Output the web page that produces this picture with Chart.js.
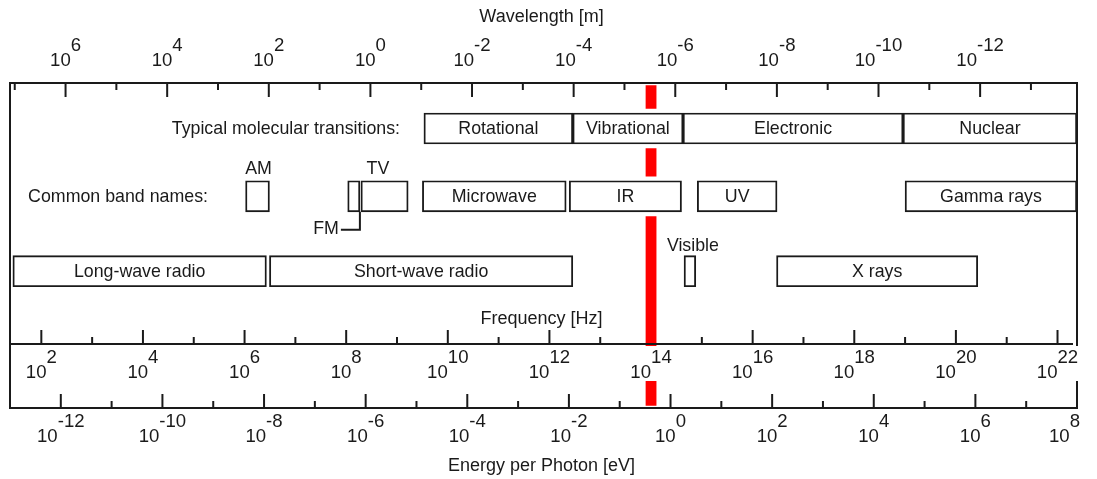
<!DOCTYPE html>
<html>
<head>
<meta charset="utf-8">
<title>Electromagnetic spectrum</title>
<script src="https://cdn.jsdelivr.net/npm/chart.js@4.4.1/dist/chart.umd.min.js"></script>
<style>
  html, body { margin: 0; padding: 0; background: #fff; }
  canvas { display: block; }
</style>
</head>
<body>
<canvas id="spectrum" width="1097" height="479"></canvas>
<script>
// every position along the spectrum is log10(frequency / Hz)
const transitionNames = ['Rotational', 'Vibrational', 'Electronic', 'Nuclear'];
const transitionRanges = [[9.53, 12.46], [12.46, 14.63], [14.63, 18.96], [18.96, 22.38]];

const bandNames = ['AM', 'FM', 'TV', 'Microwave', 'IR', 'UV', 'Gamma rays'];
const bandRanges = [[6.02, 6.49], [8.03, 8.27], [8.29, 9.22], [9.50, 12.33], [12.39, 14.60], [14.91, 16.48], [19.00, 22.38]];

const waveNames = ['Long-wave radio', 'Short-wave radio', 'Visible', 'X rays'];
const waveRanges = [[1.44, 6.43], [6.49, 12.46], [14.65, 14.88], [16.47, 20.43]];

const markerRange = [13.90, 14.10];

// tick labels (powers of ten)
const wavelengthTicks = [6, 4, 2, 0, -2, -4, -6, -8, -10, -12];
const frequencyTicks = [2, 4, 6, 8, 10, 12, 14, 16, 18, 20, 22];
const energyTicks = [-12, -10, -8, -6, -4, -2, 0, 2, 4, 6, 8];
const energyLimits = [-13, 8];

const LOG_C = Math.log10(2.998e8);     // wavelength = c / f
const LOG_H = Math.log10(4.1357e-15);  // energy = h f  [eV]

// vertical layout: px below the wavelength axis
const lane = { top: 0, transitions: 45.5, bands: 113.3, radio: 188.2, frequency: 261, energy: 325 };
const BOX = 31;
const FONT = '"Liberation Sans", Arial, sans-serif';
const TEXT = '17.8px ' + FONT;
const TICK = '18.6px ' + FONT;
const INK = '#1a1a1a';
const outsideLabels = ['AM', 'FM', 'TV', 'Visible'];
const rowTitles = [
  { text: 'Typical molecular transitions:', at: 9.06, level: lane.transitions },
  { text: 'Common band names:', at: 5.28, level: lane.bands }
];

const rows = [
  { label: 'Typical molecular transitions', names: transitionNames, ranges: transitionRanges, level: lane.transitions },
  { label: 'Common band names', names: bandNames, ranges: bandRanges, level: lane.bands },
  { label: 'Radio, visible, X rays', names: waveNames, ranges: waveRanges, level: lane.radio }
];

function rowData(ranges, level) {
  return ranges.map(r => ({ x: r, y: level }));
}

function power(ctx, exp, px, baseY, supY, maxRight) {
  const base = '10', sup = String(exp);
  const wb = ctx.measureText(base).width;
  const ws = ctx.measureText(sup).width;
  let left = px - (wb + ws) / 2;
  if (maxRight !== undefined && left + wb + ws > maxRight) left = maxRight - wb - ws;
  ctx.fillText(base, left, baseY);
  ctx.fillText(sup, left + wb, supY);
  return { left: left, right: left + wb + ws };
}

const spectrumAxes = {
  id: 'spectrumAxes',
  beforeDatasetsDraw(chart) {
    const { ctx, scales: { x, y } } = chart;
    ctx.save();
    ctx.strokeStyle = INK;
    ctx.lineWidth = 2;
    const tick = (px, py, len) => {
      ctx.beginPath(); ctx.moveTo(px, py); ctx.lineTo(px, py + len); ctx.stroke();
    };
    // wavelength ticks hang down from the top line
    const top = y.getPixelForValue(lane.top);
    for (let e = Math.ceil(LOG_C - x.max); e <= Math.floor(LOG_C - x.min); e++) {
      tick(x.getPixelForValue(LOG_C - e), top, wavelengthTicks.includes(e) ? 14 : 7);
    }
    // frequency ticks stand up from the middle line
    const fy = y.getPixelForValue(lane.frequency);
    for (let e = Math.ceil(x.min); e <= Math.floor(x.max); e++) {
      tick(x.getPixelForValue(e), fy, frequencyTicks.includes(e) ? -14 : -7);
    }
    // energy ticks stand up from the bottom line
    const ey = y.getPixelForValue(lane.energy);
    for (let e = energyLimits[0]; e <= energyLimits[1]; e++) {
      tick(x.getPixelForValue(e - LOG_H), ey, energyTicks.includes(e) ? -14 : -7);
    }
    ctx.restore();
  },
  afterDatasetsDraw(chart) {
    const { ctx, chartArea: area, scales: { x, y } } = chart;
    ctx.save();
    ctx.font = TEXT;
    ctx.fillStyle = INK;
    ctx.textBaseline = 'middle';

    // text inside the boxes
    chart.data.datasets.forEach((ds, di) => {
      if (!ds.names) return;
      chart.getDatasetMeta(di).data.forEach((el, i) => {
        const name = ds.names[i];
        if (outsideLabels.includes(name)) return;
        ctx.textAlign = 'center';
        ctx.fillText(name, (el.x + el.base) / 2, el.y + 1);
      });
    });

    // row titles
    ctx.textAlign = 'right';
    rowTitles.forEach(t => ctx.fillText(t.text, x.getPixelForValue(t.at), y.getPixelForValue(t.level) + 1));

    // labels next to the small boxes
    const bandMeta = chart.getDatasetMeta(1).data;
    const waveMeta = chart.getDatasetMeta(2).data;
    const am = bandMeta[bandNames.indexOf('AM')];
    const fm = bandMeta[bandNames.indexOf('FM')];
    const tv = bandMeta[bandNames.indexOf('TV')];
    const vis = waveMeta[waveNames.indexOf('Visible')];
    const by = y.getPixelForValue(lane.bands);
    ctx.textAlign = 'center';
    ctx.fillText('AM', (am.x + am.base) / 2 + 1, by - 27);
    ctx.fillText('TV', (fm.base + tv.x) / 2, by - 27);
    ctx.fillText('Visible', (vis.x + vis.base) / 2 + 3, y.getPixelForValue(lane.radio) - 25);
    // FM leader
    ctx.strokeStyle = INK;
    ctx.lineWidth = 2;
    const ly = by + BOX / 2 + 18;
    ctx.beginPath();
    ctx.moveTo(fm.x, by + BOX / 2);
    ctx.lineTo(fm.x, ly);
    ctx.lineTo(fm.x - 19, ly);
    ctx.stroke();
    ctx.textAlign = 'right';
    ctx.fillText('FM', fm.x - 21, ly - 1);

    // frame and axis lines
    const top = y.getPixelForValue(lane.top);
    const fy = y.getPixelForValue(lane.frequency);
    const ey = y.getPixelForValue(lane.energy);
    ctx.beginPath();
    ctx.moveTo(area.left, ey); ctx.lineTo(area.left, top); ctx.lineTo(area.right, top); ctx.lineTo(area.right, ey);
    ctx.moveTo(area.left - 1, ey); ctx.lineTo(area.right + 1, ey);
    ctx.moveTo(area.left, fy); ctx.lineTo(area.right - 4, fy);
    ctx.stroke();

    // tick labels
    ctx.font = TICK;
    ctx.textAlign = 'left';
    wavelengthTicks.forEach(e => power(ctx, e, x.getPixelForValue(LOG_C - e), top - 22, top - 37));
    frequencyTicks.forEach(e => {
      const px = x.getPixelForValue(e);
      const w = ctx.measureText('10' + e).width;
      ctx.fillStyle = '#fff';
      ctx.fillRect(px - w / 2 - 2, fy + 2, w + 4, 35);
      ctx.fillStyle = INK;
      power(ctx, e, px, fy + 29, fy + 14);
    });
    energyTicks.forEach(e => power(ctx, e, x.getPixelForValue(e - LOG_H), ey + 29, ey + 14, area.right + 3));

    // axis titles
    ctx.font = '18px ' + FONT;
    ctx.textAlign = 'center';
    const cx = (area.left + area.right) / 2 - 2;
    ctx.fillText('Wavelength [m]', cx, top - 66);
    ctx.fillText('Frequency [Hz]', cx, fy - 25);
    ctx.fillText('Energy per Photon [eV]', cx, ey + 58);
    ctx.restore();
  }
};

const boxSets = rows.map(r => ({
  label: r.label,
  names: r.names,
  data: rowData(r.ranges, r.level),
  backgroundColor: '#ffffff',
  borderColor: INK,
  borderWidth: 1.9,
  borderSkipped: false,
  barThickness: BOX,
  grouped: false,
  order: 0
}));

const gapSets = rows.map(r => ({
  label: r.label + ' gap',
  data: rowData(r.ranges, r.level),
  backgroundColor: '#ffffff',
  borderWidth: 0,
  barThickness: BOX + 8,
  grouped: false,
  order: 1
}));

const markerSet = {
  label: 'marker',
  data: [{ x: markerRange, y: (lane.top + lane.energy) / 2 }],
  backgroundColor: '#ff0000',
  borderWidth: 0,
  barThickness: lane.energy - lane.top - 5,
  grouped: false,
  order: 2
};

new Chart(document.getElementById('spectrum'), {
  type: 'bar',
  data: { datasets: [...boxSets, ...gapSets, markerSet] },
  options: {
    indexAxis: 'y',
    responsive: false,
    animation: false,
    devicePixelRatio: 1,
    layout: { padding: { left: 10, right: 20, top: 83, bottom: 71 } },
    plugins: { legend: { display: false }, tooltip: { enabled: false } },
    scales: {
      x: { type: 'linear', min: energyLimits[0] - LOG_H, max: energyLimits[1] - LOG_H, display: false },
      y: { type: 'linear', min: lane.top, max: lane.energy, reverse: true, offset: false, display: false }
    }
  },
  plugins: [spectrumAxes]
});
</script>
</body>
</html>
